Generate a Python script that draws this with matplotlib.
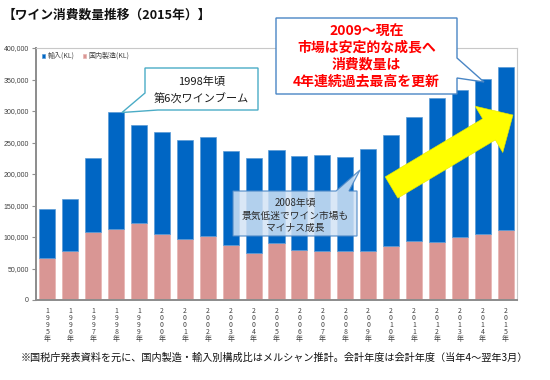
import matplotlib
matplotlib.use("Agg")
import matplotlib.pyplot as plt
from matplotlib.patches import Polygon
import numpy as np

plt.rcParams['font.family'] = ['Noto Sans CJK JP', 'DejaVu Sans']

years = [str(y) for y in range(1995, 2016)]
total = [144000, 160000, 225000, 298000, 278000, 266000, 254000, 259000, 237000, 226000,
         238000, 229000, 230000, 227000, 240000, 262000, 290000, 321000, 333000, 351000, 370000]
domestic = [66000, 77000, 108000, 113000, 123000, 104000, 97000, 102000, 88000, 75000,
            91000, 79000, 78000, 78000, 78000, 85000, 94000, 92000, 100000, 104000, 111000]
imported = [t - d for t, d in zip(total, domestic)]
series_names = ['輸入(KL)', '国内製造(KL)']
yticks = [0, 50000, 100000, 150000, 200000, 250000, 300000, 350000, 400000]

W, H = 550, 380
fig = plt.figure(figsize=(W / 100, H / 100), dpi=100)
fig.patch.set_facecolor('white')


def P(x, y):
    return (x / W, 1 - y / H)


ax = fig.add_axes([36 / W, 1 - 300 / H, (517 - 36) / W, (300 - 48) / H])
x = np.arange(len(years))
blue = '#0066C4'
pink = '#D99694'
b1 = ax.bar(x, domestic, width=0.70, color=pink, edgecolor='#E8B4B2', linewidth=0.5,
            label=series_names[1], zorder=2)
b2 = ax.bar(x, imported, width=0.70, bottom=domestic, color=blue, edgecolor='#5B9BD5',
            linewidth=0.5, label=series_names[0], zorder=2)
ax.set_xlim(-0.5, len(years) - 0.5)
ax.set_ylim(0, 400000)
ax.set_yticks(yticks)
ax.set_yticklabels(['{:,}'.format(v) for v in yticks], fontsize=5, color='#404040',
                   family=['Liberation Sans', 'DejaVu Sans'])
ax.set_xticks(x)
ax.set_xticklabels(['\n'.join(list(y + '年')) for y in years], fontsize=5, color='#404040',
                   linespacing=0.85, va='top')
ax.tick_params(axis='x', length=0, pad=5)
ax.tick_params(axis='y', length=3, width=0.8, color='#909090', pad=2)
for s in ['left', 'bottom']:
    ax.spines[s].set_color('#8C8C8C')
    ax.spines[s].set_linewidth(1.4)
for s in ['top', 'right']:
    ax.spines[s].set_color('#C8C8C8')
    ax.spines[s].set_linewidth(0.8)

ax.legend(handles=[b2, b1], loc='upper left', bbox_to_anchor=P(42, 52),
          bbox_transform=fig.transFigure, ncol=2, frameon=False, fontsize=5,
          handlelength=0.5, handleheight=0.5, handletextpad=0.3, columnspacing=1.2,
          borderpad=0, borderaxespad=0, labelcolor='#404040')

# title and footnote
fig.text(*P(3, 15), '【ワイン消費数量推移（2015年）】', fontsize=9.2, fontweight='bold',
         ha='left', va='center', color='#111111')
fig.text(*P(21, 358), '※国税庁発表資料を元に、国内製造・輸入別構成比はメルシャン推計。会計年度は会計年度（当年4～翌年3月）',
         fontsize=7.3, ha='left', va='center', color='#111111')


def callout(pts, fc, ec, lw=0.9, alpha=1.0):
    poly = Polygon([P(*p) for p in pts], closed=True, transform=fig.transFigure,
                   facecolor=fc, edgecolor=ec, linewidth=lw, alpha=alpha, zorder=5)
    fig.add_artist(poly)


# yellow arrow
tail = np.array([391.5, 187.5])
tip = np.array([513.0, 115.0])
d = tip - tail
L = np.hypot(*d)
u = d / L
n = np.array([-u[1], u[0]])
shaft_hw, head_hw, head_len = 12.4, 27.0, 28.0
base = tail + u * (L - head_len)
arrow_pts = [tail + n * shaft_hw, base + n * shaft_hw, base + n * head_hw, tip,
             base - n * head_hw, base - n * shaft_hw, tail - n * shaft_hw]
callout([tuple(p) for p in arrow_pts], '#FFFF00', '#E6E600', lw=0.4)

# 1998 callout
callout([(145, 68), (258, 68), (258, 110), (158, 110), (122, 112.5), (145, 93)],
        'white', '#4BACC6', lw=1.0)
fig.text(*P(201.5, 82), '1998年頃', fontsize=8, ha='center', va='center', color='#1a1a1a', zorder=6)
fig.text(*P(201.5, 99), '第6次ワインブーム', fontsize=8, ha='center', va='center', color='#1a1a1a', zorder=6)

# 2009 callout
callout([(276, 18), (457, 18), (457, 58), (484, 82), (457, 78), (457, 94), (276, 94)],
        'white', '#4A86C5', lw=1.0)
for yy, t in zip([32, 48, 65, 82], ['2009～現在', '市場は安定的な成長へ', '消費数量は', '4年連続過去最高を更新']):
    fig.text(*P(366.5, yy), t, fontsize=10, fontweight='bold', ha='center', va='center',
             color='#FF0000', zorder=6)

# 2008 callout
callout([(233, 191), (336, 191), (360, 170), (349, 191), (357, 191), (357, 236), (233, 236)],
        '#D3E3F5', '#4A86C5', lw=0.9, alpha=0.85)
for yy, t in zip([203, 215.5, 228], ['2008年頃', '景気低迷でワイン市場も', 'マイナス成長']):
    fig.text(*P(295, yy), t, fontsize=7, ha='center', va='center', color='#2a2a2a', zorder=6)

fig.savefig('out.png', dpi=100)
